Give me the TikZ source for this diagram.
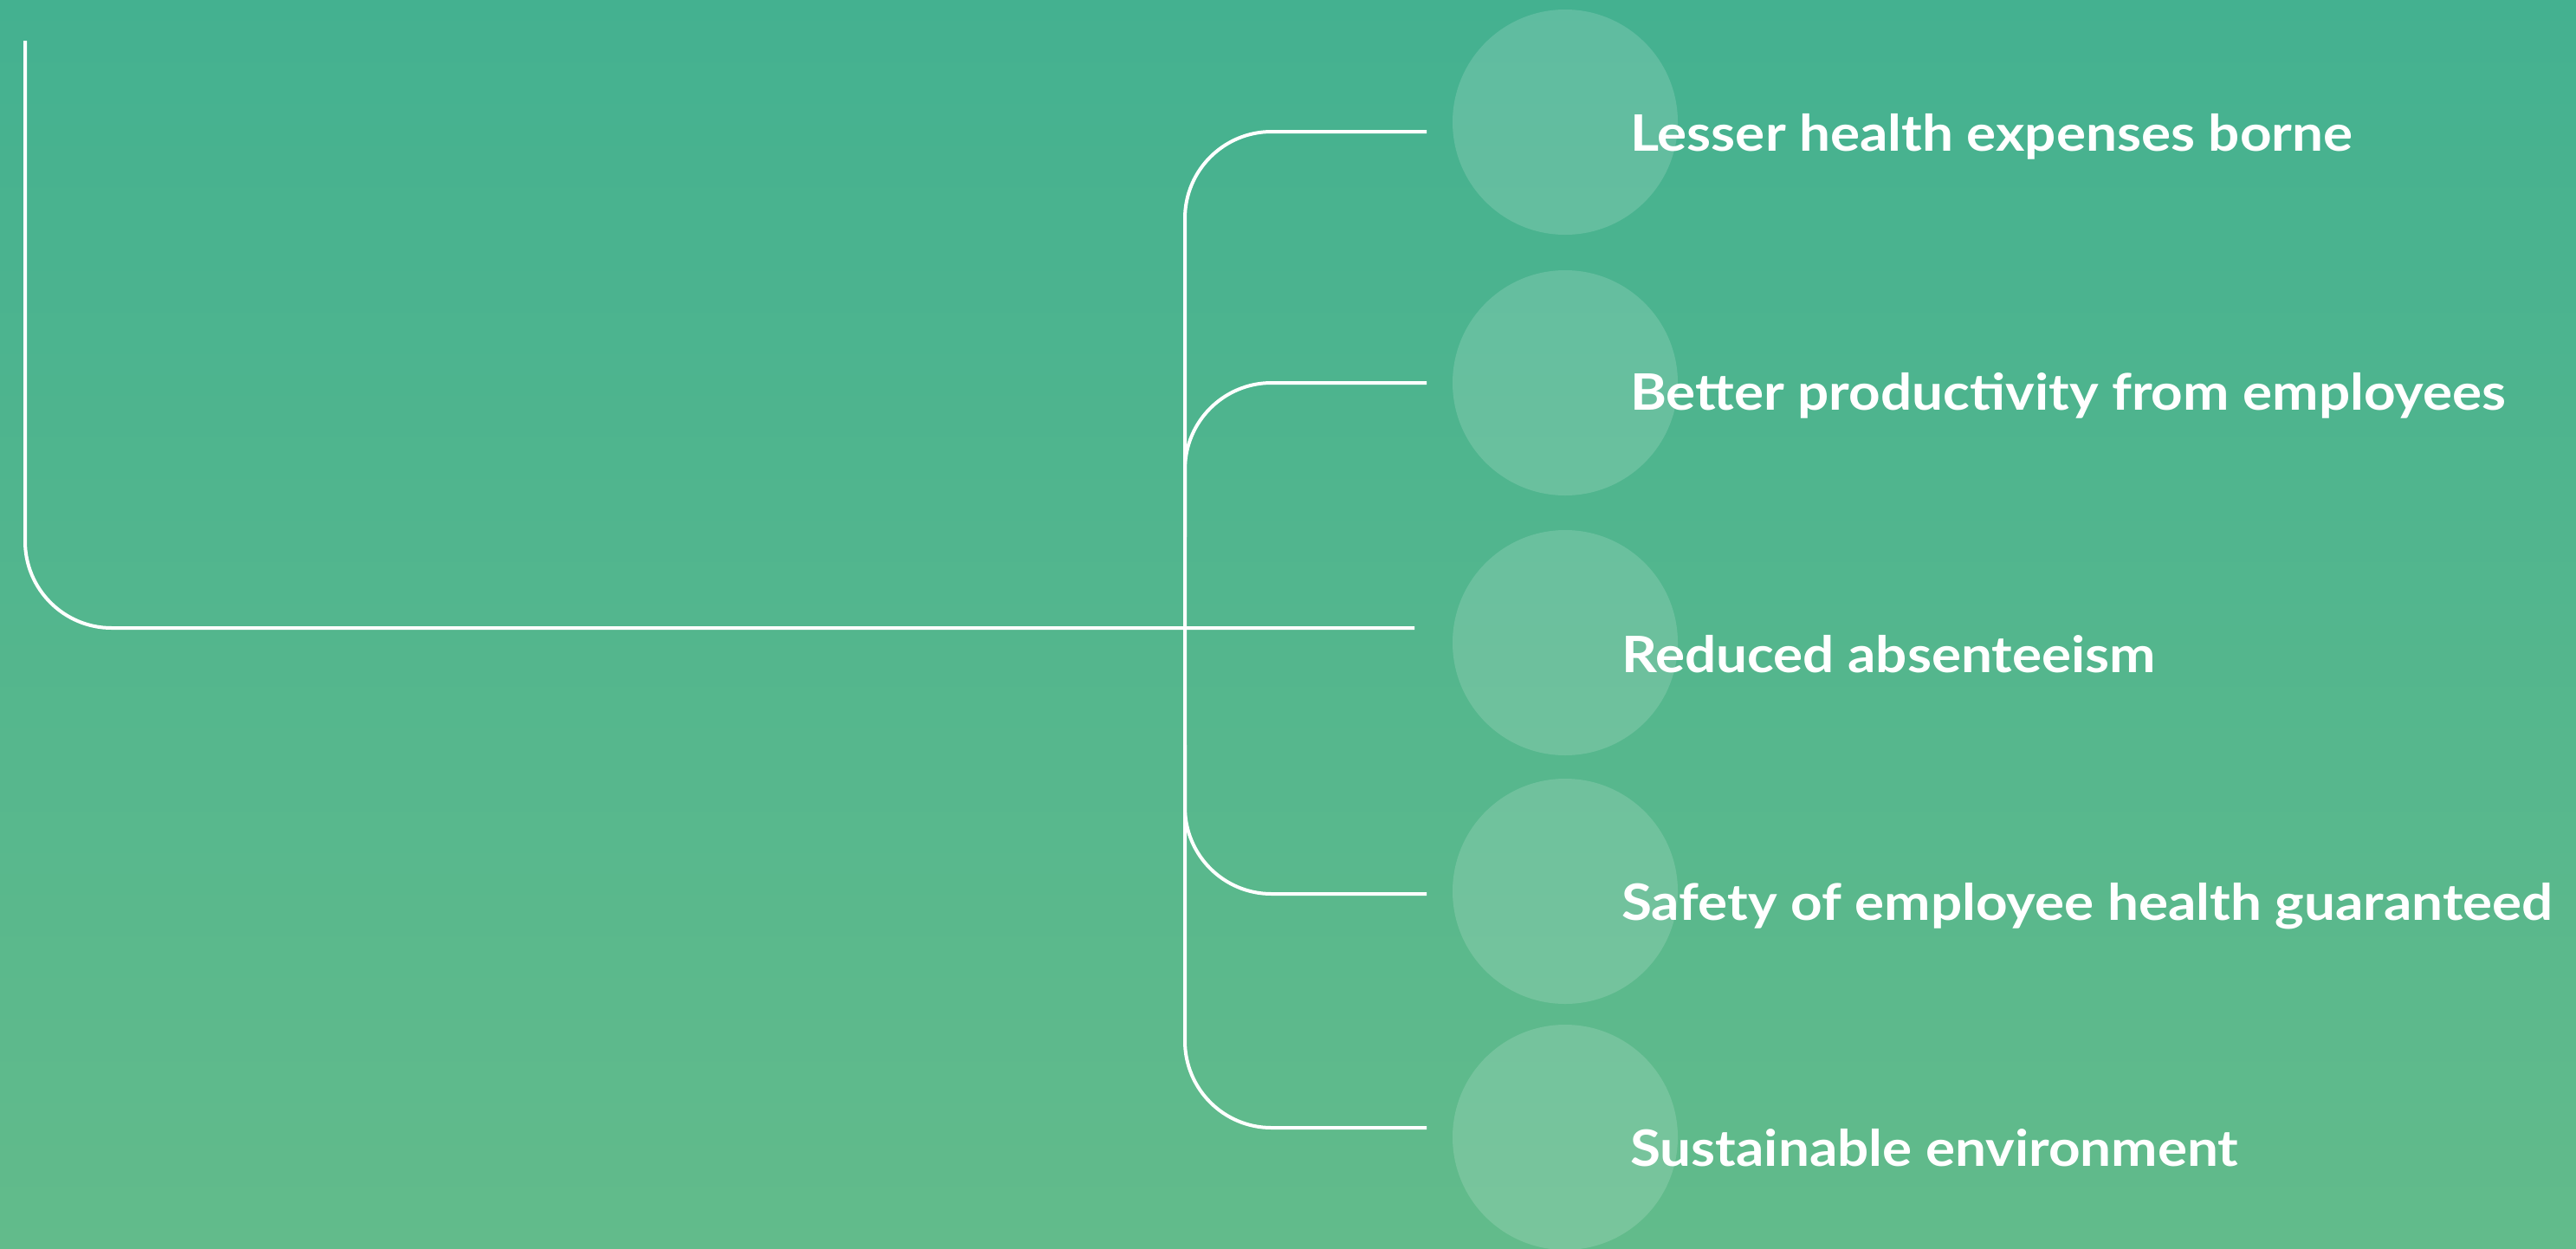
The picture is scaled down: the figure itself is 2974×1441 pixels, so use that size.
\documentclass[tikz,border=0pt]{standalone}
\usepackage{fontspec}
\setmainfont{Lato}
\newfontfamily\labelfont{Lato}[FakeStretch=1.1]
\definecolor{bgtop}{RGB}{68,177,144}
\definecolor{bgbot}{RGB}{98,187,139}
\tikzset{
  wire/.style={draw=white, line width=4pt, rounded corners=100pt},
  blob/.style={circle, fill=white, fill opacity=0.15, minimum size=260pt, inner sep=0pt},
  label/.style={anchor=base west, text=white, font=\labelfont\bfseries\fontsize{58}{60}\selectfont, inner sep=0pt}
}
\begin{document}
\begin{tikzpicture}[x=1pt,y=-1pt]
  % background with vertical gradient
  \shade[top color=bgtop, bottom color=bgbot] (0,0) rectangle (2974,1441);
  \useasboundingbox (0,0) rectangle (2974,1441);

  % translucent discs behind the labels
  \node[blob] (c1) at (1807,141) {};
  \node[blob] (c2) at (1807,442) {};
  \node[blob] (c3) at (1807,742) {};
  \node[blob] (c4) at (1807,1029) {};
  \node[blob] (c5) at (1807,1313) {};

  % labels
  \node[label] (t1) at (1882,174) {Lesser health expenses borne};
  \node[label] (t2) at (1882,473) {Better productivity from employees};
  \node[label] (t3) at (1872,776) {Reduced absenteeism};
  \node[label] (t4) at (1872,1062) {Safety of employee health guaranteed};
  \node[label] (t5) at (1882,1346) {Sustainable environment};

  % anchor points of the connector tree
  \coordinate (top) at (29,47);
  \coordinate (elbow) at (29,725);
  \coordinate (mainend) at (1633,725);
  \coordinate (trunktop) at (1368,152);
  \coordinate (trunkbot) at (1368,1302);
  \coordinate (e1) at (1647,152);
  \coordinate (e2) at (1647,442);
  \coordinate (e4) at (1647,1032);
  \coordinate (e5) at (1647,1302);
  \coordinate (j2) at (1368,442);
  \coordinate (j4) at (1368,1032);
  \coordinate (j2end) at (1368,620);
  \coordinate (j4end) at (1368,860);

  % main stem
  \draw[wire] (top) -- (elbow) -- (mainend);
  % trunk with first and last branch
  \draw[wire] (e1) -- (trunktop) -- (trunkbot) -- (e5);
  % inner branches
  \draw[wire] (e2) -- (j2) -- (j2end);
  \draw[wire] (e4) -- (j4) -- (j4end);
\end{tikzpicture}
\end{document}
